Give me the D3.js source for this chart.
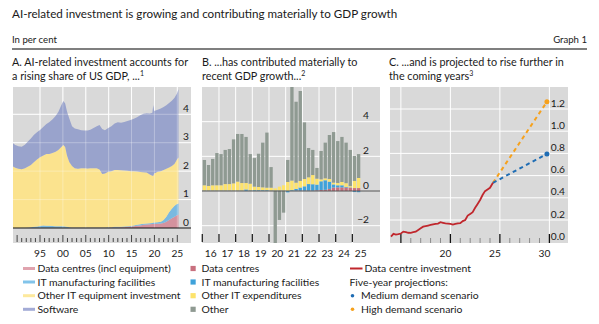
<!DOCTYPE html>
<html>
<head>
<meta charset="utf-8">
<script src="https://cdn.jsdelivr.net/npm/d3@7"></script>
<style>
  body { margin: 0; background: #fff; }
  svg { display: block; font-family: Lato, "Open Sans", sans-serif; fill: #1a1a1a; }
</style>
</head>
<body>
<svg id="chart" width="599" height="324"></svg>
<script>
// ---- Panel A: AI-related investment, % of US GDP (stacked areas)
const aYears = [1989.1, 1989.6, 1990.3, 1991.0, 1991.7, 1992.4, 1993.0, 1993.7, 1994.4, 1995.0,
  1995.7, 1996.4, 1997.0, 1997.7, 1998.4, 1999.0, 1999.6, 2000.1, 2000.5, 2000.9,
  2001.4, 2002.0, 2002.6, 2003.3, 2004.0, 2004.7, 2005.4, 2006.0, 2006.7, 2007.4,
  2008.0, 2008.6, 2009.2, 2009.9, 2010.6, 2011.3, 2012.0, 2012.7, 2013.4, 2014.1,
  2014.8, 2015.5, 2016.2, 2016.9, 2017.6, 2018.3, 2019.0, 2019.55, 2019.75, 2019.95,
  2020.7, 2021.4, 2022.0, 2022.6, 2023.2, 2023.8, 2024.4, 2024.9, 2025.25];
const aDataCentres = [0, 0, 0, 0, 0, 0.01, 0.01, 0.01, 0.01, 0.01,
  0.01, 0.01, 0.01, 0.01, 0.01, 0.01, 0.01, 0.01, 0.01, 0.01,
  0.01, 0.01, 0.01, 0.01, 0.01, 0.01, 0.01, 0.01, 0.01, 0.01,
  0.01, 0.01, 0.01, 0.01, 0.02, 0.02, 0.02, 0.03, 0.03, 0.04,
  0.05, 0.06, 0.08, 0.09, 0.11, 0.12, 0.13, 0.14, 0.14, 0.15,
  0.15, 0.16, 0.18, 0.22, 0.28, 0.34, 0.40, 0.45, 0.47];
const aItManuf = [0, 0, 0, 0.01, 0.01, 0.01, 0.02, 0.03, 0.04, 0.06,
  0.08, 0.07, 0.07, 0.06, 0.05, 0.05, 0.05, 0.05, 0.04, 0.03,
  0.02, 0.01, 0.01, 0.01, 0.01, 0.01, 0.01, 0.01, 0.01, 0.01,
  0.01, 0.01, 0.01, 0.02, 0.01, 0.02, 0.02, 0.01, 0.02, 0.02,
  0.02, 0.03, 0.03, 0.04, 0.04, 0.04, 0.04, 0.04, 0.05, 0.04,
  0.05, 0.06, 0.10, 0.18, 0.27, 0.34, 0.38, 0.39, 0.39];
const aOtherIT = [2.16, 2.12, 2.08, 2.06, 2.09, 2.14, 2.19, 2.28, 2.37, 2.42,
  2.46, 2.52, 2.52, 2.57, 2.62, 2.68, 2.78, 2.86, 2.80, 2.51,
  2.29, 2.16, 2.08, 2.06, 2.08, 2.08, 2.07, 2.08, 2.08, 2.08,
  2.04, 1.88, 1.90, 1.95, 1.97, 2.00, 2.00, 1.99, 1.97, 1.95,
  1.93, 1.91, 1.88, 1.84, 1.81, 1.79, 1.71, 1.66, 1.65, 1.73,
  1.78, 1.78, 1.76, 1.68, 1.58, 1.50, 1.48, 1.56, 1.62];
const aSoftware = [0.82, 0.80, 0.80, 0.79, 0.83, 0.89, 0.93, 0.96, 0.96, 0.96,
  1.00, 1.06, 1.12, 1.18, 1.26, 1.34, 1.46, 1.55, 1.53, 1.55,
  1.53, 1.40, 1.40, 1.39, 1.34, 1.33, 1.34, 1.36, 1.42, 1.48,
  1.56, 1.58, 1.52, 1.54, 1.58, 1.64, 1.68, 1.67, 1.71, 1.75,
  1.80, 1.84, 1.91, 2.00, 2.06, 2.09, 2.15, 2.21, 2.49, 2.20,
  2.18, 2.20, 2.22, 2.24, 2.27, 2.30, 2.32, 2.32, 2.40];
const aTickYears = [1995, 2000, 2005, 2010, 2015, 2020, 2025];
const aTickLabels = ["95", "00", "05", "10", "15", "20", "25"];
const aYTicks = [0, 1, 2, 3, 4];

// ---- Panel B: contributions to US GDP growth, quarterly, pp
const bQuarters = ["2016Q1","2016Q2","2016Q3","2016Q4","2017Q1","2017Q2","2017Q3","2017Q4",
  "2018Q1","2018Q2","2018Q3","2018Q4","2019Q1","2019Q2","2019Q3","2019Q4",
  "2020Q1","2020Q2","2020Q3","2020Q4","2021Q1","2021Q2","2021Q3","2021Q4",
  "2022Q1","2022Q2","2022Q3","2022Q4","2023Q1","2023Q2","2023Q3","2023Q4",
  "2024Q1","2024Q2","2024Q3","2024Q4","2025Q1","2025Q2"];
const bDataCentres = [0.01,0.01,0.01,0.01,0.01,0.01,0.01,0.01,0.01,0.01,0.01,0.01,0.01,0.01,0.01,0.01,
  0.01,0.01,0.01,0.01,0.01,0.01,0.02,0.02,0.02,0.02,0.02,0.04,0.06,0.07,0.12,0.20,
  0.21,0.21,0.20,0.19,0.17,0.17];
const bItManuf = [0.02,0.02,0.02,0.02,0.02,0.02,0.02,0.02,0.02,0.02,0.08,0.03,0.04,0.04,0.04,0.04,
  0.02,0.02,0.02,0.02,-0.08,0.04,0.10,0.18,0.25,0.38,0.37,0.33,0.50,0.55,0.42,0.18,
  0.12,0.12,0.04,0.02,-0.06,-0.07];
const bOtherIT = [0.30,0.26,0.30,0.30,0.30,0.37,0.37,0.41,0.51,0.43,0.37,0.38,0.20,0.18,0.16,0.14,
  0.16,0.12,0.22,0.30,0.51,0.55,0.36,0.38,0.42,0.39,0.53,0.34,0.11,0.11,0.15,0.10,
  0.13,0.19,0.21,0.07,0.41,0.58];
const bOther = [1.46,1.21,1.52,1.86,1.80,1.97,2.02,2.54,2.75,2.83,2.66,1.71,1.65,1.92,2.58,3.18,
  1.19,-3.30,-1.67,-1.25,1.27,6.20,4.67,5.19,3.27,1.69,1.45,0.62,1.64,2.06,2.54,2.92,
  2.42,2.60,2.34,2.09,1.44,1.38];
const bTickYears = [2016, 2017, 2018, 2019, 2020, 2021, 2022, 2023, 2024, 2025];
const bTickLabels = ["16", "17", "18", "19", "20", "21", "22", "23", "24", "25"];
const bYTicks = [-2, 0, 2, 4];

// ---- Panel C: data centre investment, % of GDP, with projections
const cDates = [2014.5, 2014.75, 2015.0, 2015.25, 2015.5, 2015.75, 2016.0, 2016.25, 2016.5, 2016.75,
  2017.0, 2017.25, 2017.5, 2017.75, 2018.0, 2018.25, 2018.5, 2018.75, 2019.0, 2019.25,
  2019.5, 2019.75, 2020.0, 2020.25, 2020.5, 2020.75, 2021.0, 2021.25, 2021.5, 2021.75,
  2022.0, 2022.25, 2022.5, 2022.75, 2023.0, 2023.25, 2023.5, 2023.75, 2024.0, 2024.25,
  2024.5, 2024.8];
const cInvestment = [0.05, 0.075, 0.068, 0.072, 0.078, 0.095, 0.09, 0.085, 0.084, 0.09,
  0.095, 0.11, 0.125, 0.14, 0.145, 0.15, 0.155, 0.16, 0.165, 0.168,
  0.18, 0.175, 0.17, 0.168, 0.165, 0.158, 0.165, 0.17, 0.172, 0.19,
  0.20, 0.24, 0.255, 0.27, 0.31, 0.345, 0.38, 0.425, 0.46, 0.475,
  0.49, 0.535];
const cProjDates = [2024.8, 2030.25];
const cMedium = [0.535, 0.795];
const cHigh = [0.535, 1.265];
const cTickYears = [2020, 2025, 2030];
const cTickLabels = ["20", "25", "30"];
const cYTicks = [0, 0.2, 0.4, 0.6, 0.8, 1.0, 1.2];

const panelBg = "#d9d9d9";
const svg = d3.select("#chart");

// header
svg.append("text").attr("x", 12).attr("y", 17.5).attr("font-size", 11.65)
  .text("AI-related investment is growing and contributing materially to GDP growth");
svg.append("text").attr("x", 12).attr("y", 42.5).attr("font-size", 9.6).text("In per cent");
svg.append("text").attr("x", 587).attr("y", 42.5).attr("font-size", 9.6)
  .attr("text-anchor", "end").text("Graph 1");
svg.append("line").attr("x1", 12).attr("x2", 587).attr("y1", 49).attr("y2", 49)
  .attr("stroke", "#000").attr("stroke-width", 1.2);

function panelTitle(x, lines) {
  const t = svg.append("text").attr("font-size", 10.8);
  lines.forEach((l, i) => {
    const ts = t.append("tspan").attr("x", x).attr("y", 66.3 + i * 13.5);
    ts.append("tspan").text(l[0]);
    if (l[1]) ts.append("tspan").attr("font-size", 7).attr("dy", -3.8).text(l[1]);
  });
}
panelTitle(12, [["A. AI-related investment accounts for"], ["a rising share of US GDP, ...", "1"]]);
panelTitle(202, [["B. ...has contributed materially to"], ["recent GDP growth...", "2"]]);
panelTitle(389, [["C. ...and is projected to rise further in"], ["the coming years", "3"]]);

function yLabels(g, ticks, scale, xEnd, fmt) {
  g.selectAll(null).data(ticks).join("text")
    .attr("x", xEnd).attr("y", d => scale(d) - 2.5)
    .attr("text-anchor", "end").attr("font-size", 10.2)
    .text(fmt);
}
function xLabels(g, ticks, labels, pos, y) {
  g.selectAll(null).data(ticks).join("text")
    .attr("x", pos).attr("y", y).attr("text-anchor", "middle").attr("font-size", 10.2)
    .text((d, i) => labels[i]);
}

// ---------- Panel A
{
  const g = svg.append("g");
  const x = d3.scaleLinear().domain([1989.1, 2025.5]).range([13, 179.6]);
  const y = d3.scaleLinear().domain([0, 4.96]).range([228, 87]);
  g.append("rect").attr("x", 13).attr("y", 87).attr("width", 178).attr("height", 156).attr("fill", panelBg);

  const grid = sel => {
    sel.selectAll(null).data([1, 2, 3, 4]).join("line")
      .attr("x1", 13).attr("x2", 191).attr("y1", d => y(d)).attr("y2", d => y(d));
    sel.selectAll(null).data(aTickYears).join("line")
      .attr("x1", d => x(d)).attr("x2", d => x(d)).attr("y1", 87).attr("y2", 228);
  };
  g.append("g").attr("stroke", "#fff").attr("stroke-width", 1).call(grid);

  const rows = aYears.map((yr, i) => ({ year: yr, dc: aDataCentres[i], itm: aItManuf[i], oth: aOtherIT[i], sw: aSoftware[i] }));
  const keys = ["dc", "itm", "oth", "sw"];
  const colors = { dc: "#d4929e", itm: "#7ab9e0", oth: "#fbe38e", sw: "#99a3cc" };
  const series = d3.stack().keys(keys)(rows);
  const area = d3.area().x(d => x(d.data.year)).y0(d => y(d[0])).y1(d => y(d[1]));
  g.append("g").selectAll("path").data(series).join("path")
    .attr("fill", d => colors[d.key]).attr("d", area);

  // gridlines show faintly through the areas
  g.append("g").attr("stroke", "#fff").attr("stroke-opacity", 0.3).call(grid);

  g.append("line").attr("x1", 13).attr("x2", 191).attr("y1", y(0)).attr("y2", y(0))
    .attr("stroke", "#111").attr("stroke-width", 1.2);

  g.append("g").attr("stroke", "#444").selectAll("line").data(d3.range(1990, 2026)).join("line")
    .attr("x1", d => x(d)).attr("x2", d => x(d))
    .attr("y1", d => d % 5 === 0 ? 235 : 238).attr("y2", 242);

  yLabels(g, aYTicks, y, 189, d => d);
  xLabels(g, aTickYears, aTickLabels, d => x(d), 256.5);
}

// ---------- Panel B
{
  const g = svg.append("g");
  const x = d3.scaleLinear().domain([2016, 2025.5]).range([202.3, 360.7]);
  const band = d3.scaleBand().domain(bQuarters).range([202.3, 360.7]).paddingInner(0.2).paddingOuter(0.1);
  const y = d3.scaleLinear().domain([-3, 6]).range([243, 87]);
  g.append("rect").attr("x", 202).attr("y", 87).attr("width", 178).attr("height", 156).attr("fill", panelBg);
  g.append("clipPath").attr("id", "clipB").append("rect")
    .attr("x", 202).attr("y", 87).attr("width", 178).attr("height", 156);

  g.append("g").attr("stroke", "#fff").selectAll("line").data([-2, 2, 4]).join("line")
    .attr("x1", 202).attr("x2", 380).attr("y1", d => y(d)).attr("y2", d => y(d));
  g.append("g").attr("stroke", "#fff").selectAll("line").data(bTickYears.slice(1)).join("line")
    .attr("x1", d => x(d)).attr("x2", d => x(d)).attr("y1", 87).attr("y2", 243);

  const rows = bQuarters.map((q, i) => ({ q, dc: bDataCentres[i], itm: bItManuf[i], oth: bOtherIT[i], other: bOther[i] }));
  const keys = ["dc", "itm", "oth", "other"];
  const colors = { dc: "#c8707e", itm: "#3fa2da", oth: "#fde36b", other: "#8f9a92" };
  const series = d3.stack().keys(keys).offset(d3.stackOffsetDiverging)(rows);
  g.append("g").attr("clip-path", "url(#clipB)").selectAll("g").data(series).join("g")
    .attr("fill", d => colors[d.key])
    .selectAll("rect").data(d => d).join("rect")
    .attr("x", d => band(d.data.q)).attr("width", band.bandwidth())
    .attr("y", d => y(Math.max(d[0], d[1])))
    .attr("height", d => Math.abs(y(d[0]) - y(d[1])));

  g.append("line").attr("x1", 202).attr("x2", 380).attr("y1", y(0)).attr("y2", y(0))
    .attr("stroke", "#555").attr("stroke-width", 1);

  g.append("g").attr("stroke", "#222").attr("stroke-width", 1.3).selectAll("line").data(bTickYears).join("line")
    .attr("x1", d => x(d)).attr("x2", d => x(d)).attr("y1", 234).attr("y2", 242);

  yLabels(g, bYTicks, y, 369, d => d < 0 ? "\u2212" + Math.abs(d) : d);
  xLabels(g, bTickYears, bTickLabels, d => x(d + 0.5), 256.5);
}

// ---------- Panel C
{
  const g = svg.append("g");
  const x = d3.scaleLinear().domain([2014.4, 2032.4]).range([390, 568.2]);
  const y = d3.scaleLinear().domain([0, 1.4]).range([242.2, 86.8]);
  g.append("rect").attr("x", 390).attr("y", 87).attr("width", 178).attr("height", 156).attr("fill", panelBg);

  g.append("g").attr("stroke", "#fff").selectAll("line").data(cYTicks.slice(1)).join("line")
    .attr("x1", 390).attr("x2", 568).attr("y1", d => y(d)).attr("y2", d => y(d));
  g.append("g").attr("stroke", "#fff").selectAll("line").data([2015.5, 2020.5, 2025.5, 2030.5]).join("line")
    .attr("x1", d => x(d)).attr("x2", d => x(d)).attr("y1", 87).attr("y2", 243);

  // year ticks sit between the labels, longer every five years
  const ticks = d3.range(2015.5, 2031, 1);
  g.append("g").selectAll("line").data(ticks).join("line")
    .attr("x1", d => x(d)).attr("x2", d => x(d))
    .attr("y1", d => (d - 0.5) % 5 === 0 ? 234 : 238).attr("y2", 243)
    .attr("stroke", d => (d - 0.5) % 5 === 0 ? "#111" : "#8a8a8a")
    .attr("stroke-width", d => (d - 0.5) % 5 === 0 ? 1.3 : 1);

  const line = d3.line().x(d => x(d[0])).y(d => y(d[1]));
  const proj = [
    { vals: cHigh, color: "#f6a11c" },
    { vals: cMedium, color: "#1f6db4" }
  ];
  proj.forEach(p => {
    const pts = cProjDates.map((d, i) => [d, p.vals[i]]);
    g.append("path").attr("d", line(pts)).attr("fill", "none")
      .attr("stroke", p.color).attr("stroke-width", 2).attr("stroke-dasharray", "4,3.5");
    g.append("circle").attr("cx", x(pts[1][0])).attr("cy", y(pts[1][1])).attr("r", 2.5).attr("fill", p.color);
  });
  g.append("path").attr("d", line(cDates.map((d, i) => [d, cInvestment[i]])))
    .attr("fill", "none").attr("stroke", "#c0272d").attr("stroke-width", 1.8);

  yLabels(g, cYTicks, y, 565, d3.format(".1f"));
  xLabels(g, cTickYears, cTickLabels, d => x(d), 256.5);
}

// ---------- Legends
{
  const rowY = [268.5, 282, 295.7, 309.3];
  const lg = svg.append("g").attr("font-size", 10.4);
  const aLeg = [["Data centres (incl equipment)", "#e0a3ae"], ["IT manufacturing facilities", "#82c4ea"],
    ["Other IT equipment investment", "#fde99d"], ["Software", "#a3abd6"]];
  aLeg.forEach(([t, c], i) => {
    lg.append("line").attr("x1", 23).attr("x2", 35).attr("y1", rowY[i]).attr("y2", rowY[i])
      .attr("stroke", c).attr("stroke-width", 3);
    lg.append("text").attr("x", 37.5).attr("y", rowY[i] + 3.6).text(t);
  });
  const bLeg = [["Data centres", "#c8707e"], ["IT manufacturing facilities", "#3fa2da"],
    ["Other IT expenditures", "#fde36b"], ["Other", "#8f9a92"]];
  bLeg.forEach(([t, c], i) => {
    lg.append("rect").attr("x", 190.5).attr("y", rowY[i] - 2.6).attr("width", 5.2).attr("height", 5.2).attr("fill", c);
    lg.append("text").attr("x", 201.5).attr("y", rowY[i] + 3.6).text(t);
  });
  lg.append("line").attr("x1", 350).attr("x2", 362.5).attr("y1", rowY[0]).attr("y2", rowY[0])
    .attr("stroke", "#c0272d").attr("stroke-width", 2);
  lg.append("text").attr("x", 364.5).attr("y", rowY[0] + 3.6).text("Data centre investment");
  lg.append("text").attr("x", 349.5).attr("y", rowY[1] + 3.6).text("Five-year projections:");
  [["Medium demand scenario", "#1f6db4"], ["High demand scenario", "#f6a11c"]].forEach(([t, c], i) => {
    lg.append("circle").attr("cx", 352.5).attr("cy", rowY[i + 2]).attr("r", 1.8).attr("fill", c);
    lg.append("text").attr("x", 361).attr("y", rowY[i + 2] + 3.6).text(t);
  });
}
</script>
</body>
</html>
